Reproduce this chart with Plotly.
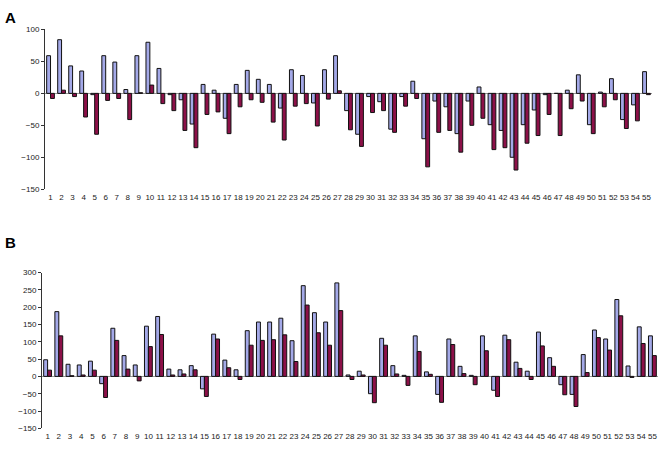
import plotly.graph_objects as go

# categories 1..55
categories = [str(i) for i in range(1, 56)]

# panel A values
a_light = [59, 84, 43, 35, -2, 59, 49, 6, 59, 80,
           39, -2, -10, -48, 14, 5, -39, 14, 36, 22,
           14, -23, 37, 28, -15, 37, 59, -27, -64, -5,
           -13, -56, -5, 19, -71, -12, -21, -63, -12, 10,
           -49, -58, -100, -49, -26, -2, 0, 5, 29, -49,
           2, 23, -41, -18, 34]
a_dark = [-8, 5, -5, -37, -64, -11, -8, -41, 1, 13,
          -16, -27, -58, -85, -33, -29, -63, -21, -10, -14,
          -45, -73, -20, -16, -51, -9, 4, -57, -83, -30,
          -27, -61, -20, -8, -115, -61, -58, -92, -50, -39,
          -88, -85, -120, -78, -66, -33, -66, -24, -12, -63,
          -21, -10, -55, -43, -2]

# panel B values
b_light = [48, 187, 35, 33, 44, -21, 139, 60, 33, 145,
           173, 21, 19, 31, -36, 122, 47, 19, 132, 157,
           157, 168, 103, 262, 184, 157, 270, 4, 15, -50,
           110, 31, 3, 117, 13, -52, 108, 29, 3, 117,
           -40, 119, 41, 15, 128, 54, -24, -52, 63, 134,
           108, 222, 30, 143, 117]
b_dark = [18, 117, 2, 4, 18, -61, 104, 21, -13, 86,
          121, 4, 7, 19, -58, 108, 25, -9, 90, 104,
          106, 120, 43, 206, 126, 90, 190, -9, 4, -76,
          90, 7, -26, 72, 6, -75, 92, 8, -24, 74,
          -58, 106, 23, -9, 88, 29, -53, -87, 11, 112,
          76, 175, -3, 95, 60]

LIGHT = "#a4a9e8"
DARK = "#8c1048"
FONT = "Liberation Sans, Arial, sans-serif"

fig = go.Figure()

def add_pair(light, dark, xa, ya):
    for vals, col in ((light, LIGHT), (dark, DARK)):
        fig.add_trace(go.Bar(
            x=categories, y=vals, xaxis=xa, yaxis=ya,
            marker=dict(color=col, line=dict(color="#111111", width=1)),
            showlegend=False,
        ))

add_pair(a_light, a_dark, "x", "y")
add_pair(b_light, b_dark, "x2", "y2")

x_dom = [45 / 662, 652 / 662]
x_dom_b = [42 / 662, 658 / 662]

xcommon = dict(type="category", showline=False, showgrid=False, ticks="",
               tickfont=dict(family=FONT, size=8, color="#222222"),
               tickangle=0, ticklabelstandoff=2)
ycommon = dict(showgrid=False, showline=True, linecolor="#333333", linewidth=1,
               ticks="outside", ticklen=3, tickcolor="#333333",
               tickfont=dict(family=FONT, size=8, color="#222222"),
               zeroline=True, zerolinecolor="#999999", zerolinewidth=1)

fig.update_layout(
    width=662, height=449,
    margin=dict(l=0, r=0, t=0, b=0),
    paper_bgcolor="white", plot_bgcolor="white",
    barmode="group", bargap=0.3, bargroupgap=0.0,
    xaxis=dict(domain=x_dom, anchor="y", **xcommon),
    yaxis=dict(domain=[1 - 189 / 449, 1 - 26 / 449], range=[-150, 100],
               dtick=50, anchor="x", **ycommon),
    xaxis2=dict(domain=x_dom_b, anchor="y2", **xcommon),
    yaxis2=dict(domain=[1 - 433 / 449, 1 - 274 / 449], range=[-150, 300],
                dtick=50, anchor="x2", **ycommon),
    annotations=[
        dict(text="<b>A</b>", x=3 / 662, y=1 - 3 / 449, xref="paper", yref="paper",
             xanchor="left", yanchor="top", showarrow=False,
             font=dict(family=FONT, size=15, color="black")),
        dict(text="<b>B</b>", x=3 / 662, y=1 - 233 / 449, xref="paper", yref="paper",
             xanchor="left", yanchor="top", showarrow=False,
             font=dict(family=FONT, size=15, color="black")),
    ],
)

# drop the default body margin so the figure fills the window exactly
fig.write_html("out.html", config={"displayModeBar": False},
               post_script="document.body.style.margin='0';")
